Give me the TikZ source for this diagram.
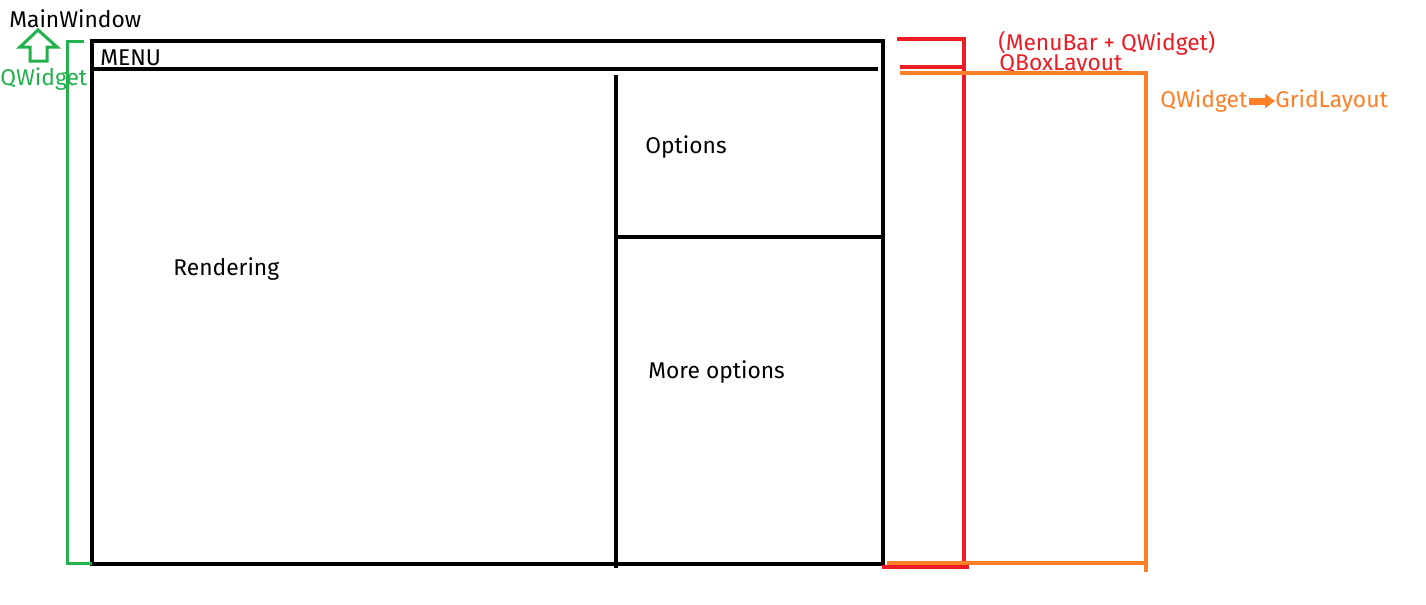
\documentclass[tikz,border=0pt]{standalone}
\usepackage{fontspec}
\setmainfont{Fira Sans}
\usetikzlibrary{arrows.meta}
\definecolor{pgreen}{HTML}{22B14C}
\definecolor{pred}{HTML}{ED1C24}
\definecolor{porange}{HTML}{FF7F27}
\begin{document}
\begin{tikzpicture}[x=0.5pt,y=-0.5pt,
  blk/.style={line width=2pt,draw=black},
  grn/.style={line width=1.5pt,draw=pgreen},
  rd/.style={line width=1.7pt,draw=pred},
  org/.style={line width=1.7pt,draw=porange},
  lbl/.style={font=\fontsize{11.4}{13}\selectfont,inner sep=0pt,anchor=west},
]
\useasboundingbox[fill=white] (0,0) rectangle (1426,605);
% black window
\draw[blk] (92,41) rectangle (883,564);
\draw[blk] (92,69) -- (878,69);
\draw[blk] (616,75) -- (616,568);
\draw[blk] (616,237) -- (883,237);
\node[lbl] (menu) at (100,58) {MENU};
\node[lbl] (opt) at (645,147) {Options};
\node[lbl] (rend) at (173,269) {Rendering};
\node[lbl] (more) at (648,372) {More options};
\node[lbl] (mw) at (9,19) {MainWindow};
% green
\draw[grn] (84,41) -- (67,41) -- (67,563) -- (92,563);
\draw[grn,line join=miter] (38,30) -- (57,47) -- (47,47) -- (47,61) -- (30,61) -- (30,47) -- (20,47) -- cycle;
\node[lbl,text=pgreen] (qw) at (0,79) {QWidget};
% red
\draw[rd] (897,39) -- (964,39);
\draw[rd] (900,67) -- (962,67);
\draw[rd] (964,37) -- (964,564);
\draw[rd] (882,567) -- (969,567);
\node[lbl,text=pred] (mb) at (998,43) {(MenuBar + QWidget)};
\node[lbl,text=pred] (box) at (999,65) {QBoxLayout};
% orange
\draw[org] (900,73) -- (1146,73) -- (1146,572);
\draw[org] (887,563) -- (1145,563);
\node[lbl,text=porange] (qw2) at (1160,101) {QWidget};
\node[lbl,text=porange] (gl) at (1275,101) {GridLayout};
\draw[porange,line width=3.5pt,-{Triangle[length=5pt,width=7pt]}] (qw2.east) ++(1,0) -- (gl.west);
\end{tikzpicture}
\end{document}
